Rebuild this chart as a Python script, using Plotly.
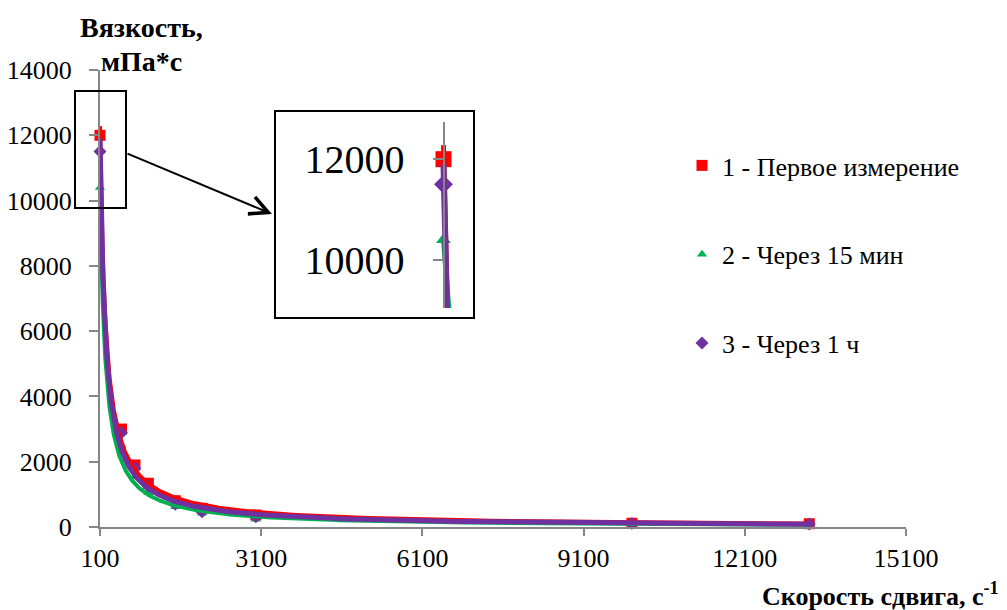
import numpy as np
import plotly.graph_objects as go

# ---- data ----
shear_rate = [100, 500, 750, 1000, 1500, 2000, 3000, 10000, 13300]
visc_first = [12000, 3000, 1900, 1340, 806, 572, 368, 115, 100]
visc_15min = [10400, 2500, 1540, 1050, 620, 420, 235, 90, 80]
visc_1h = [11500, 2890, 1800, 1250, 700, 470, 316, 105, 95]

series_names = ["1 - Первое измерение", "2 - Через 15 мин", "3 - Через 1 ч"]
series_colors = ["#FF0000", "#00B050", "#7030A0"]
series_symbols = ["square", "triangle-up", "diamond"]

# power trendlines (as drawn in the reference): value at the first shear rate and exponent
trend_value_at_start = [12280, 10400, 11900]
trend_exponent = [-0.966, -1.024, -1.005]

x_ticks = [100, 3100, 6100, 9100, 12100, 15100]
y_ticks = [0, 2000, 4000, 6000, 8000, 10000, 12000, 14000]
inset_ticks = [10000, 12000]

FONT = "Liberation Serif"
W, H = 1007, 610
L, R, T, B = 100, 101, 70, 83
PW, PH = W - L - R, H - T - B


def px(xp):
    return (xp - L) / PW


def py(yp):
    return (H - B - yp) / PH


all_series = [visc_first, visc_15min, visc_1h]
x0 = float(min(shear_rate))
x_fit = np.geomspace(x0, float(max(shear_rate)), 800)
fits = [trend_value_at_start[i] * (x_fit / x0) ** trend_exponent[i] for i in range(3)]

fig = go.Figure()

main_sizes = [11, 9, 10]
inset_sizes = [16, 13, 14.5]
line_w_main = [4, 4, 5]
line_w_inset = [5, 5, 6]

# main markers (legend)
for i, vals in enumerate(all_series):
    fig.add_trace(go.Scatter(
        x=shear_rate, y=vals, mode="markers", name=series_names[i],
        marker=dict(symbol=series_symbols[i], size=main_sizes[i], color=series_colors[i],
                    line=dict(width=0)),
        cliponaxis=False, legendgroup=f"g{i}", showlegend=True,
    ))
# main trendlines
for i in range(3):
    fig.add_trace(go.Scatter(
        x=x_fit, y=fits[i], mode="lines", line=dict(color=series_colors[i], width=line_w_main[i]),
        showlegend=False, hoverinfo="skip",
    ))
# inset markers and trendlines
for i, vals in enumerate(all_series):
    fig.add_trace(go.Scatter(
        x=shear_rate, y=vals, mode="markers", xaxis="x2", yaxis="y2",
        marker=dict(symbol=series_symbols[i], size=inset_sizes[i], color=series_colors[i],
                    line=dict(width=0)),
        showlegend=False, hoverinfo="skip",
    ))
for i in range(3):
    fig.add_trace(go.Scatter(
        x=x_fit, y=fits[i], mode="lines", xaxis="x2", yaxis="y2",
        line=dict(color=series_colors[i], width=line_w_inset[i]),
        showlegend=False, hoverinfo="skip",
    ))

axis_common = dict(
    showgrid=False, zeroline=False, showline=True, linecolor="#868686", linewidth=2,
    ticks="outside", tickcolor="#868686", tickwidth=2,
    tickfont=dict(family=FONT, size=26, color="black"),
)

# inset geometry (pixels)
box_l, box_r, box_t, box_b = 275, 474, 111, 318
ax_top, ax_bot = 122, 308
axis_xpix = 443.5
inset_scale = 0.1  # px per x unit
x2_range = [x0 - (axis_xpix - box_l) / inset_scale, x0 + (box_r - axis_xpix) / inset_scale]

fig.update_layout(
    width=W, height=H,
    margin=dict(l=L, r=R, t=T, b=B, autoexpand=False),
    paper_bgcolor="white", plot_bgcolor="white",
    font=dict(family=FONT, color="black"),
    xaxis=dict(range=[100, 15100], tickmode="array", tickvals=x_ticks,
               ticktext=[str(v) for v in x_ticks], ticklen=7, **axis_common),
    yaxis=dict(range=[0, 14000], tickmode="array", tickvals=y_ticks,
               ticktext=[str(v) for v in y_ticks], ticklen=9, ticklabelstandoff=12, **axis_common),
    xaxis2=dict(domain=[px(box_l), px(box_r)], range=x2_range, visible=False, anchor="y2"),
    yaxis2=dict(domain=[py(ax_bot), py(ax_top)], range=[9040, 12740], anchor="free",
                position=px(axis_xpix), tickmode="array", tickvals=inset_ticks,
                ticktext=[str(v) for v in inset_ticks],
                showgrid=False, zeroline=False, showline=True, linecolor="#868686", linewidth=2,
                ticks="outside", tickcolor="#868686", tickwidth=2, ticklen=10,
                ticklabelstandoff=20,
                tickfont=dict(family=FONT, size=40, color="black")),
    legend=dict(x=px(682), y=py(142), xanchor="left", yanchor="top",
                font=dict(family=FONT, size=26, color="black"),
                tracegroupgap=52, traceorder="grouped", bgcolor="rgba(0,0,0,0)"),
    showlegend=True,
)

# highlight rectangle on main chart, inset frame and connecting arrow
fig.add_shape(type="rect", xref="paper", yref="paper",
              x0=px(75), x1=px(126), y0=py(208), y1=py(91),
              line=dict(color="black", width=2))
fig.add_shape(type="rect", xref="paper", yref="paper",
              x0=px(box_l), x1=px(box_r), y0=py(box_b), y1=py(box_t),
              line=dict(color="black", width=2))
fig.add_annotation(xref="paper", yref="paper", x=px(272), y=py(214), text="",
                   showarrow=True, arrowhead=5, arrowsize=1.8, arrowwidth=2, arrowcolor="black",
                   ax=126 - 272, ay=153 - 214, axref="pixel", ayref="pixel")

# axis titles
fig.add_annotation(xref="paper", yref="paper", x=px(141), y=py(27.5), text="<b>Вязкость,</b>",
                   showarrow=False, xanchor="center", yanchor="middle",
                   font=dict(family=FONT, size=28, color="black"))
fig.add_annotation(xref="paper", yref="paper", x=px(141), y=py(61.5), text="<b>мПа*с</b>",
                   showarrow=False, xanchor="center", yanchor="middle",
                   font=dict(family=FONT, size=28, color="black"))
fig.add_annotation(xref="paper", yref="paper", x=px(1001), y=py(594),
                   text="<b>Скорость сдвига, с<sup>-1</sup></b>",
                   showarrow=False, xanchor="right", yanchor="middle",
                   font=dict(family=FONT, size=26, color="black"))

fig.write_html("out.html")
